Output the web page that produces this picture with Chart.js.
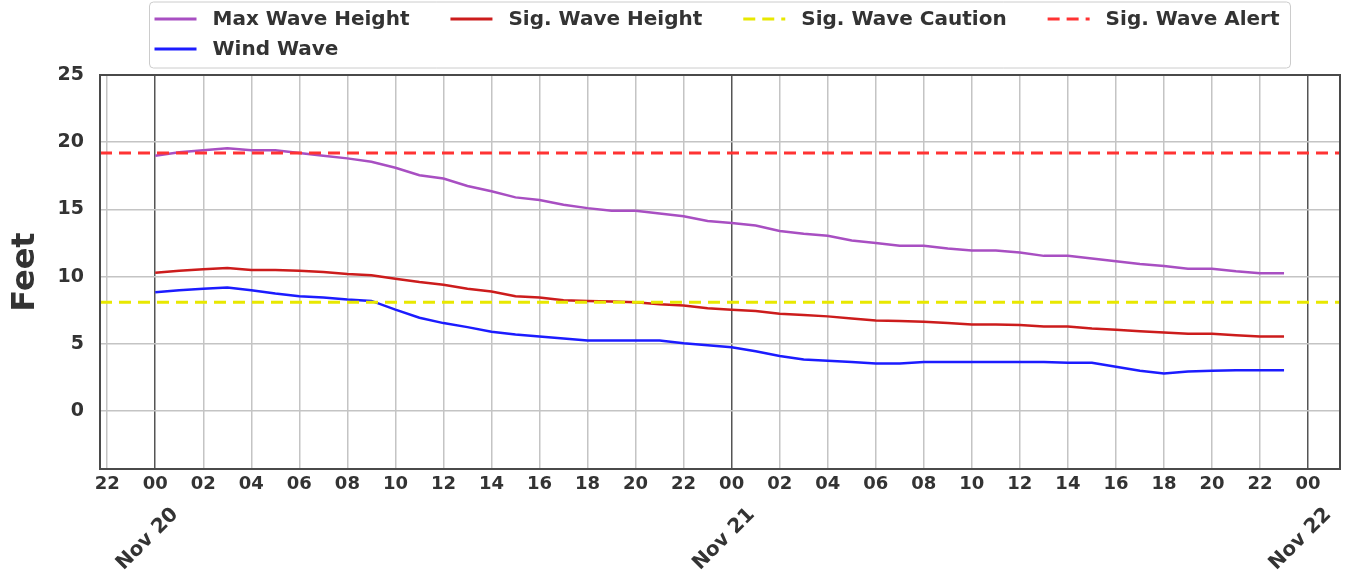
<!DOCTYPE html>
<html>
<head>
<meta charset="utf-8">
<script src="https://cdn.jsdelivr.net/npm/chart.js@4.4.0/dist/chart.umd.min.js"></script>
<style>
  html, body { margin: 0; padding: 0; background: #fff; }
  #wrap { width: 1348px; height: 572px; position: relative; }
</style>
</head>
<body>
<div id="wrap"><canvas id="waveChart" width="1348" height="572"></canvas></div>
<script>
// hours since Nov 20 00:00, one value per hour
const hours = Array.from({ length: 48 }, (_, i) => i);

const maxWave = [19.0, 19.25, 19.4, 19.55, 19.4, 19.4, 19.2, 19.0, 18.8, 18.55, 18.1, 17.55,
    17.3, 16.75, 16.35, 15.9, 15.7, 15.35, 15.1, 14.9, 14.9, 14.7, 14.5, 14.15,
    14.0, 13.8, 13.4, 13.2, 13.05, 12.7, 12.5, 12.3, 12.3, 12.1, 11.95, 11.95,
    11.8, 11.55, 11.55, 11.35, 11.15, 10.95, 10.8, 10.6, 10.6, 10.4, 10.25, 10.25];

const sigWave = [10.3, 10.45, 10.55, 10.65, 10.5, 10.5, 10.45, 10.35, 10.2, 10.1, 9.85, 9.6,
    9.4, 9.1, 8.9, 8.55, 8.45, 8.25, 8.2, 8.15, 8.1, 7.95, 7.85, 7.65,
    7.55, 7.45, 7.25, 7.15, 7.05, 6.9, 6.75, 6.7, 6.65, 6.55, 6.45, 6.45,
    6.4, 6.3, 6.3, 6.15, 6.05, 5.95, 5.85, 5.75, 5.75, 5.65, 5.55, 5.55];

const windWave = [8.85, 9.0, 9.1, 9.2, 9.0, 8.75, 8.55, 8.45, 8.3, 8.2, 7.55, 6.95,
    6.55, 6.25, 5.9, 5.7, 5.55, 5.4, 5.25, 5.25, 5.25, 5.25, 5.05, 4.9,
    4.75, 4.45, 4.1, 3.85, 3.75, 3.65, 3.55, 3.55, 3.65, 3.65, 3.65, 3.65,
    3.65, 3.65, 3.6, 3.6, 3.3, 3.0, 2.8, 2.95, 3.0, 3.05, 3.05, 3.05];

const cautionLevel = 8.1;
const alertLevel = 19.2;

// axis limits and ticks
const xMin = -2.3;
const xMax = 49.33;
const yMin = -4.3;
const yMax = 25;
const hourTicks = [-2, 0, 2, 4, 6, 8, 10, 12, 14, 16, 18, 20, 22, 24, 26, 28, 30, 32, 34, 36, 38, 40, 42, 44, 46, 48];
const dateTicks = [0, 24, 48];
const dateLabels = ['Nov 20', 'Nov 21', 'Nov 22'];
const yTicks = [0, 5, 10, 15, 20, 25];

const FONT = 'DejaVu Sans';
const TEXT = '#333333';

function series(values) {
    return values.map((v, i) => ({ x: hours[i], y: v }));
}

function level(v) {
    return [{ x: xMin, y: v }, { x: xMax, y: v }];
}

const datasets = [
    { label: 'Max Wave Height', data: series(maxWave), borderColor: '#a84fc2', borderWidth: 2.5, order: 4 },
    { label: 'Wind Wave', data: series(windWave), borderColor: '#1c1cff', borderWidth: 2.5, order: 3 },
    { label: 'Sig. Wave Height', data: series(sigWave), borderColor: '#cc1c1c', borderWidth: 2.5, order: 2 },
    { label: 'Sig. Wave Caution', data: level(cautionLevel), borderColor: '#e8e800', borderWidth: 3, borderDash: [12, 7], order: 1 },
    { label: 'Sig. Wave Alert', data: level(alertLevel), borderColor: '#ff3333', borderWidth: 3, borderDash: [12, 7], order: 0 }
];
datasets.forEach(d => {
    d.pointRadius = 0;
    d.tension = 0;
    d.fill = false;
    d.borderCapStyle = 'butt';
});

// matplotlib-like legend: 4 columns, filled column by column
const legendColumns = [[0, 1], [2], [3], [4]];

const legendBox = {
    id: 'legendBox',
    afterDraw(chart) {
        const ctx = chart.ctx;
        const area = chart.chartArea;
        const sets = chart.data.datasets;
        const handleLen = 42, textGap = 16, colGap = 41, padX = 5, padR = 11;
        ctx.save();
        ctx.font = `bold 20px "${FONT}"`;
        const colWidths = legendColumns.map(col =>
            Math.max(...col.map(i => ctx.measureText(sets[i].label).width)));
        let total = padX + padR;
        colWidths.forEach((w, i) => {
            total += handleLen + textGap + w + (i < colWidths.length - 1 ? colGap : 0);
        });
        const left = (area.left + area.right) / 2 - total / 2;
        const top = 2, height = 66;

        ctx.beginPath();
        ctx.roundRect(left, top, total, height, 4);
        ctx.fillStyle = 'rgba(255,255,255,0.9)';
        ctx.fill();
        ctx.strokeStyle = '#cccccc';
        ctx.lineWidth = 1;
        ctx.stroke();

        const rowY = [19, 49];
        let x = left + padX;
        legendColumns.forEach((col, c) => {
            col.forEach((idx, r) => {
                const ds = sets[idx];
                const y = rowY[r];
                ctx.beginPath();
                ctx.setLineDash(ds.borderDash || []);
                ctx.strokeStyle = ds.borderColor;
                ctx.lineWidth = 3;
                ctx.moveTo(x, y);
                ctx.lineTo(x + handleLen, y);
                ctx.stroke();
                ctx.setLineDash([]);
                ctx.fillStyle = TEXT;
                ctx.textAlign = 'left';
                ctx.textBaseline = 'middle';
                ctx.fillText(ds.label, x + handleLen + textGap, y + 1);
            });
            x += handleLen + textGap + colWidths[c] + colGap;
        });
        ctx.restore();
    }
};

const frame = {
    id: 'frame',
    afterDatasetsDraw(chart) {
        const { ctx, chartArea: a } = chart;
        ctx.save();
        ctx.strokeStyle = '#4a4a4a';
        ctx.lineWidth = 2;
        ctx.strokeRect(a.left, a.top, a.right - a.left, a.bottom - a.top);
        ctx.restore();
    }
};

document.addEventListener('DOMContentLoaded', function() {
    const ctx = document.getElementById('waveChart').getContext('2d');
    new Chart(ctx, {
        type: 'line',
        data: { datasets: datasets },
        options: {
            responsive: false,
            animation: false,
            events: [],
            layout: { padding: { left: 0, right: 8, top: 75, bottom: 0 } },
            plugins: {
                legend: { display: false },
                tooltip: { enabled: false }
            },
            scales: {
                x: {
                    type: 'linear',
                    position: 'bottom',
                    min: xMin,
                    max: xMax,
                    afterBuildTicks: s => { s.ticks = hourTicks.map(v => ({ value: v })); },
                    afterFit: s => { s.height = 30; },
                    ticks: {
                        autoSkip: false,
                        maxRotation: 0,
                        padding: 5,
                        color: TEXT,
                        font: { family: FONT, size: 18, weight: 'bold' },
                        callback: v => String(((v % 24) + 24) % 24).padStart(2, '0')
                    },
                    grid: {
                        drawTicks: false,
                        lineWidth: 1.5,
                        color: c => (c.tick && c.tick.value % 24 === 0) ? '#555555' : '#c4c4c4'
                    },
                    border: { display: false }
                },
                x2: {
                    type: 'linear',
                    position: 'bottom',
                    min: xMin,
                    max: xMax,
                    afterBuildTicks: s => { s.ticks = dateTicks.map(v => ({ value: v })); },
                    afterFit: s => { s.height = 73; },
                    ticks: {
                        autoSkip: false,
                        minRotation: 45,
                        maxRotation: 45,
                        padding: 4,
                        labelOffset: 20,
                        color: TEXT,
                        font: { family: FONT, size: 20, weight: 'bold' },
                        callback: v => dateLabels[dateTicks.indexOf(v)]
                    },
                    grid: { display: false, drawTicks: false },
                    border: { display: false }
                },
                y: {
                    min: yMin,
                    max: yMax,
                    afterBuildTicks: s => { s.ticks = yTicks.map(v => ({ value: v })); },
                    afterFit: s => { s.width = 100; },
                    ticks: {
                        padding: 16,
                        color: TEXT,
                        font: { family: FONT, size: 19, weight: 'bold' }
                    },
                    grid: { drawTicks: false, lineWidth: 1.5, color: '#c4c4c4' },
                    border: { display: false },
                    title: {
                        display: true,
                        text: 'Feet',
                        color: TEXT,
                        font: { family: FONT, size: 32, weight: 'bold' },
                        padding: { top: 6, bottom: 0 }
                    }
                }
            }
        },
        plugins: [legendBox, frame]
    });
});
</script>
</body>
</html>
